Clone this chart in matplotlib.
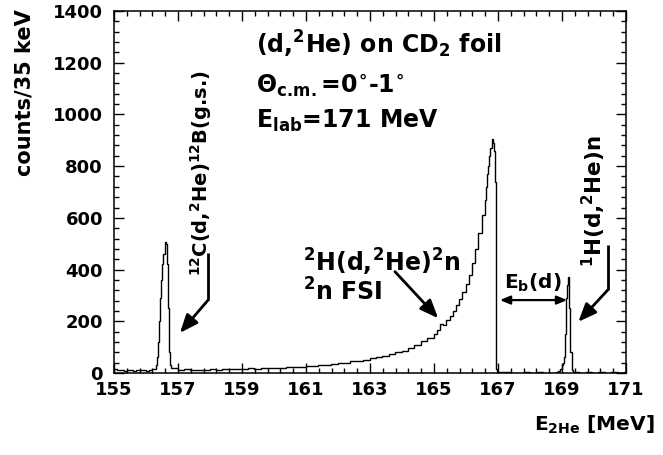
import numpy as np
import matplotlib
matplotlib.use("Agg")
import matplotlib.pyplot as plt
from matplotlib.ticker import FixedLocator

plt.rcParams['font.family'] = ['DejaVu Sans']
plt.rcParams['font.weight'] = 'bold'
plt.rcParams['mathtext.fontset'] = 'dejavusans'
plt.rcParams['mathtext.default'] = 'bf'

# histogram: (start [MeV], bin width [MeV], counts)
bg_left = [14, 10, 12, 9, 13, 11, 8, 12, 10, 13, 9, 11, 15]
peak_c12 = [30, 60, 120, 200, 290, 360, 420, 460, 505, 500, 420, 250, 80, 30]
continuum = [18, 12, 14, 11, 13, 12, 14, 13, 15, 14,
             16, 15, 18, 16, 19, 18, 21, 20, 23, 22,
             25, 27, 28, 31, 30, 35, 38, 40, 46, 48,
             52, 57, 60, 66, 72, 80, 86, 96, 110, 122, 135]
rise = [150, 165, 190, 185, 205, 220, 240, 262, 285, 315, 345, 380, 425, 480, 540, 610]
peak_main = [670, 720, 770, 800, 840, 870, 905, 890, 860, 740, 15, 3]
gap = [2, 4, 1, 0, 3, 1, 2, 0, 1]
peak_h1 = [3, 5, 6, 8, 15, 30, 40, 60, 150, 290, 340, 372, 250, 80, 10]
tail = [3, 1, 2, 0, 2, 1, 3, 1, 2]

segments = [(155.0, 0.1, bg_left),
            (156.3, 0.035, peak_c12),
            (156.79, 0.2, continuum),
            (164.99, 0.1, rise),
            (166.59, 0.035, peak_main),
            (167.01, 0.2, gap),
            (168.81, 0.035, peak_h1),
            (169.335, 0.2, tail)]

xticks = [155, 157, 159, 161, 163, 165, 167, 169, 171]

edges = [segments[0][0]]
counts = []
for start, w, c in segments:
    for i in range(len(c)):
        edges.append(start + (i + 1) * w)
    counts += c

fig = plt.figure(figsize=(6.63, 4.55), dpi=100)
ax = fig.add_axes([114/663, 1-373/455, 512/663, 362/455])

ax.stairs(counts, edges, color='black', lw=1.0)

ax.set_xlim(155, 171)
ax.set_ylim(0, 1400)
ax.set_xticks(xticks)
ax.xaxis.set_minor_locator(FixedLocator(np.arange(155, 171.01, 0.4)))
ax.set_yticks(np.arange(0, 1401, 200))
ax.yaxis.set_minor_locator(FixedLocator(np.arange(0, 1401, 40)))
ax.tick_params(which='both', direction='in', top=True, right=True, width=1.0)
ax.tick_params(which='major', length=7, labelsize=13)
ax.tick_params(which='minor', length=3.5)
ax.tick_params(axis='y', which='major', pad=8)
ax.tick_params(axis='x', which='major', pad=6)
for s in ax.spines.values():
    s.set_linewidth(1.1)
for lab in ax.get_xticklabels() + ax.get_yticklabels():
    lab.set_fontweight('bold')

arrow = dict(arrowstyle='-|>,head_length=1.1,head_width=0.45', color='black', lw=2.0,
             shrinkA=0, shrinkB=0)

# texts
ax.text(159.45, 1272, r'(d,$^{2}$He) on CD$_{2}$ foil', fontsize=17, va='center')
ax.text(159.45, 1110, r'$\Theta_{c.\!m.}$=0$^{\circ}$-1$^{\circ}$', fontsize=17, va='center')
ax.text(159.45, 975, r'E$_{lab}$=171 MeV', fontsize=17, va='center')

ax.text(157.72, 377, r'$^{12}$C(d,$^{2}$He)$^{12}$B(g.s.)', fontsize=14,
        rotation=90, ha='center', va='bottom')
ax.plot([157.94, 157.94], [464, 282], color='black', lw=2.0, solid_capstyle='butt')
ax.annotate('', xy=(157.06, 155), xytext=(157.94, 282), arrowprops=arrow)

ax.text(160.9, 429, r'$^{2}$H(d,$^{2}$He)$^{2}$n', fontsize=17, va='center')
ax.text(160.9, 313, r'$^{2}$n FSI', fontsize=17, va='center')
ax.annotate('', xy=(165.13, 212), xytext=(163.78, 392), arrowprops=arrow)

ax.text(168.1, 350, r'E$_{b}$(d)', fontsize=14.5, ha='center', va='center')
ax.annotate('', xy=(169.16, 282), xytext=(167.06, 282),
            arrowprops=dict(arrowstyle='<|-|>,head_length=0.6,head_width=0.25', color='black', lw=1.6,
                            shrinkA=0, shrinkB=0))

ax.text(170.0, 410, r'$^{1}$H(d,$^{2}$He)n', fontsize=15.5,
        rotation=90, ha='center', va='bottom')
ax.plot([170.43, 170.43], [495, 321], color='black', lw=2.0, solid_capstyle='butt')
ax.annotate('', xy=(169.51, 198), xytext=(170.43, 321), arrowprops=arrow)

fig.text(25/663, 1-9/455, 'counts/35 keV', rotation=90, fontsize=15,
         ha='center', va='top')
fig.text(655/663, 1-425/455, r'E$_{2He}$ [MeV]', fontsize=14.5, ha='right', va='center')

fig.savefig('out.png', dpi=100)
